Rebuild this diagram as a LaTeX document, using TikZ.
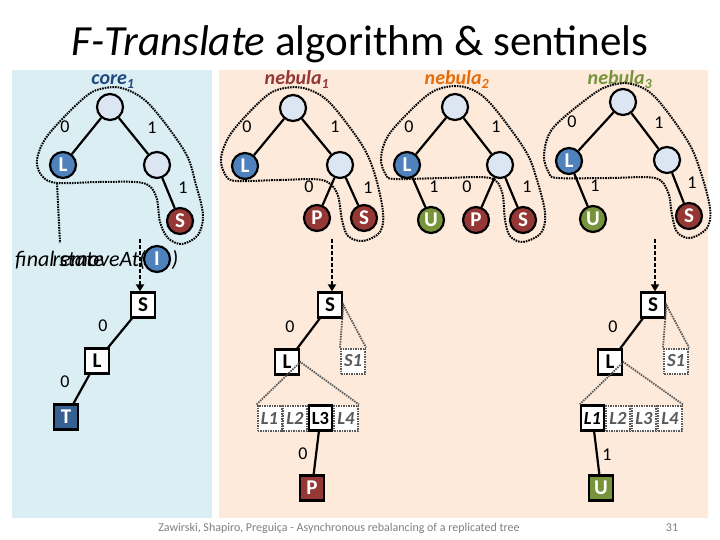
\documentclass[tikz,border=0pt]{standalone}
\usepackage{fontspec}
\setmainfont{Carlito}
\usetikzlibrary{arrows.meta}
\definecolor{bgblue}{RGB}{219,238,244}
\definecolor{bgpeach}{RGB}{253,234,218}
\definecolor{lightc}{RGB}{220,230,242}
\definecolor{blueL}{RGB}{79,129,189}
\definecolor{redS}{RGB}{149,55,53}
\definecolor{greenU}{RGB}{119,147,60}
\definecolor{darkT}{RGB}{54,96,146}
\definecolor{coreC}{RGB}{31,73,125}
\definecolor{nebTwoC}{RGB}{228,108,10}
\definecolor{dgrey}{RGB}{89,89,89}
\definecolor{footC}{RGB}{128,128,128}
\tikzset{
  cnode/.style={circle, draw=black, line width=2.2pt, minimum size=26pt, inner sep=0pt, font=\bfseries\fontsize{21}{21}\selectfont},
  lnode/.style={cnode, fill=lightc},
  bnode/.style={cnode, fill=blueL, text=white},
  rnode/.style={cnode, fill=redS, text=white},
  gnode/.style={cnode, fill=greenU, text=white},
  sqbox/.style={rectangle, draw=black, line width=2.2pt, minimum width=24.5pt, minimum height=25pt, inner sep=0pt, fill=white, font=\bfseries\fontsize{21}{21}\selectfont},
  dotbox/.style={rectangle, draw=dgrey, line width=2pt, dash pattern=on 1.5pt off 1pt, minimum width=24pt, minimum height=25pt, inner sep=0pt, fill=white, text=dgrey, font=\bfseries\itshape\fontsize{18.5}{18.5}\selectfont},
  solbox/.style={rectangle, draw=black, line width=2.2pt, minimum width=23.5pt, minimum height=25pt, inner sep=0pt, fill=white, font=\bfseries\fontsize{18.5}{18.5}\selectfont},
  tedge/.style={draw=black, line width=2.2pt},
  elab/.style={font=\fontsize{18}{18}\selectfont, inner sep=0pt},
  contour/.style={draw=black, line width=2pt, dash pattern=on 1.6pt off 1pt},
  gtri/.style={draw=dgrey, line width=1.8pt, dash pattern=on 1.5pt off 1pt},
  darrow/.style={draw=black, line width=2.4pt, dash pattern=on 4pt off 2pt, -{Triangle[length=7pt,width=8pt]}},
  grplab/.style={font=\bfseries\itshape\fontsize{20}{20}\selectfont, anchor=base, inner sep=0pt},
}
\begin{document}
\begin{tikzpicture}[x=1pt,y=-1pt]
\useasboundingbox (0,0) rectangle (720,540);
\fill[white] (0,0) rectangle (720,540);
% panels
\fill[bgblue] (12,70) rectangle (212,518);
\fill[bgpeach] (219,70) rectangle (708,518);
% title
\node[anchor=base, inner sep=0pt, font=\fontsize{43}{43}\selectfont] (title) at (360,56) {\textit{F-Translate} algorithm \& sentinels};
% group labels
\node[grplab, text=coreC] (lcore) at (113,85) {core\textsubscript{1}};
\node[grplab, text=redS] (lneb1) at (297,85) {nebula\textsubscript{1}};
\node[grplab, text=nebTwoC] (lneb2) at (457,85) {nebula\textsubscript{2}};
\node[grplab, text=greenU] (lneb3) at (620,85) {nebula\textsubscript{3}};

% contours
\draw[contour] plot[smooth cycle, tension=0.55] coordinates {(57,183) (100,182) (143,183) (156,196) (160,222) (168,238) (182,244) (198,235) (203,215) (196,185) (185,152) (150,105) (125,89) (105,88) (85,97) (48,135) (37,160) (42,176)};
\draw[contour] (57,183) -- (60,243);
\draw[contour] plot[smooth cycle, tension=0.55] coordinates {(237,181) (280,180) (322,180) (337,193) (342,220) (348,236) (363,241) (380,232) (383,212) (375,175) (362,145) (330,103) (307,89) (285,88) (265,97) (232,132) (221,158) (226,176)};
\draw[contour] plot[smooth cycle, tension=0.55] coordinates {(395,179) (445,178) (490,178) (502,192) (505,220) (510,236) (523,242) (541,233) (545,213) (537,180) (525,150) (490,103) (468,88) (446,87) (425,97) (390,133) (381,158) (386,175)};
\draw[contour] plot[smooth cycle, tension=0.55] coordinates {(558,178) (610,178) (655,178) (668,192) (672,215) (677,232) (690,238) (707,228) (710,208) (700,170) (687,140) (655,97) (632,84) (612,85) (592,95) (553,128) (544,155) (549,173)};

% core1 tree
\node[lnode] (c0) at (110,107) {};
\node[bnode] (cL) at (63,165) {L};
\node[lnode] (cR) at (157,165) {};
\node[rnode] (cS) at (180,221) {S};
\draw[tedge] (c0) -- (cL);
\draw[tedge] (c0) -- (cR);
\draw[tedge] (cR) -- (cS);
\node[elab] (ce1) at (65,127) {0};
\node[elab] (ce2) at (152,128) {1};
\node[elab] (ce3) at (183,188) {1};

% nebula1 tree
\node[lnode] (a0) at (293,108) {};
\node[bnode] (aL) at (245,166) {L};
\node[lnode] (aR) at (340,165) {};
\node[rnode] (aP) at (317,218) {P};
\node[rnode] (aS) at (364,218) {S};
\draw[tedge] (a0) -- (aL);
\draw[tedge] (a0) -- (aR);
\draw[tedge] (aR) -- (aP);
\draw[tedge] (aR) -- (aS);
\node[elab] (ae1) at (247,127) {0};
\node[elab] (ae2) at (335,127) {1};
\node[elab] (ae3) at (309,187) {0};
\node[elab] (ae4) at (368,188) {1};

% nebula2 tree
\node[lnode] (b0) at (455,107) {};
\node[bnode] (bL) at (407,165) {L};
\node[lnode] (bR) at (500,165) {};
\node[gnode] (bU) at (431,220) {U};
\node[rnode] (bP) at (476,220) {P};
\node[rnode] (bS) at (523,220) {S};
\draw[tedge] (b0) -- (bL);
\draw[tedge] (b0) -- (bR);
\draw[tedge] (bL) -- (bU);
\draw[tedge] (bR) -- (bP);
\draw[tedge] (bR) -- (bS);
\node[elab] (be1) at (409,127) {0};
\node[elab] (be2) at (496,127) {1};
\node[elab] (be3) at (434,187) {1};
\node[elab] (be4) at (467,187) {0};
\node[elab] (be5) at (527,187) {1};

% nebula3 tree
\node[lnode] (d0) at (623,102) {};
\node[bnode] (dL) at (569,161) {L};
\node[lnode] (dR) at (667,160) {};
\node[gnode] (dU) at (593,219) {U};
\node[rnode] (dS) at (689,216) {S};
\draw[tedge] (d0) -- (dL);
\draw[tedge] (d0) -- (dR);
\draw[tedge] (dL) -- (dU);
\draw[tedge] (dR) -- (dS);
\node[elab] (de1) at (572,122) {0};
\node[elab] (de2) at (659,123) {1};
\node[elab] (de3) at (595,186) {1};
\node[elab] (de4) at (692,183) {1};

% final state / removeAt
\node[anchor=base west, inner sep=0pt, font=\itshape\fontsize{22}{22}\selectfont] (fstate) at (15,266) {final state};
\node[anchor=base east, inner sep=0pt, font=\itshape\fontsize{22}{22}\selectfont] (remat) at (146,266) {removeAt(};
\node[bnode] (iN) at (157,259) {I};
\node[anchor=base, inner sep=0pt, font=\itshape\fontsize{22}{22}\selectfont] (rparen) at (175,266) {)};

% blue panel path
\node[sqbox] (pS) at (143,305) {S};
\node[sqbox] (pL) at (97,361) {L};
\node[sqbox, fill=darkT, text=white] (pT) at (66,417) {T};
\draw[tedge] (pS) -- (pL);
\draw[tedge] (pL) -- (pT);
\node[elab] (pe1) at (103,326) {0};
\node[elab] (pe2) at (65,382) {0};
\coordinate (ca) at (140,239);
\draw[darrow] (ca) -- (pS.north -| ca);

% middle path
\coordinate (ma) at (332,239);
\node[sqbox] (mS) at (330,305) {S};
\node[sqbox] (mL) at (287,362) {L};
\node[dotbox] (mS1) at (353,361) {S1};
\node[dotbox] (mL1) at (269.5,418) {L1};
\node[dotbox] (mL2) at (295,418) {L2};
\node[dotbox] (mL4) at (346,418) {L4};
\node[solbox] (mL3) at (320.5,418) {L3};
\node[sqbox, fill=redS, text=white] (mP) at (312,488) {P};
\draw[darrow] (ma) -- (mS.north -| ma);
\draw[tedge] (mS) -- (mL);
\draw[tedge] (mL3) -- (mP);
\draw[gtri] (mS1.north west) -- (mS.east) -- (mS1.north east);
\draw[gtri] (mL1.north west) -- (mL.east) -- (mL4.north east);
\node[elab] (me1) at (290,327) {0};
\node[elab] (me2) at (303,454) {0};

% right path
\coordinate (ra) at (655,239);
\node[sqbox] (rS) at (653,305) {S};
\node[sqbox] (rL) at (610,362) {L};
\node[dotbox] (rS1) at (676,361) {S1};
\node[dotbox] (rL2) at (618,418) {L2};
\node[dotbox] (rL3) at (644,418) {L3};
\node[dotbox] (rL4) at (670,418) {L4};
\node[solbox, font=\bfseries\itshape\fontsize{18.5}{18.5}\selectfont] (rL1) at (592.5,418) {L1};
\node[sqbox, fill=greenU, text=white] (rU) at (601,488) {U};
\draw[darrow] (ra) -- (rS.north -| ra);
\draw[tedge] (rS) -- (rL);
\draw[tedge] (rL1) -- (rU);
\draw[gtri] (rS1.north west) -- (rS.east) -- (rS1.north east);
\draw[gtri] (rL1.north west) -- (rL.east) -- (rL4.north east);
\node[elab] (re1) at (613,327) {0};
\node[elab] (re2) at (607,455) {1};

% footer
\node[anchor=base, inner sep=0pt, text=footC, font=\fontsize{12}{12}\selectfont] (foot) at (339,531) {Zawirski, Shapiro, Preguiça - Asynchronous rebalancing of a replicated tree};
\node[anchor=base, inner sep=0pt, text=footC, font=\fontsize{12}{12}\selectfont] (pnum) at (672,531) {31};
\end{tikzpicture}
\end{document}
